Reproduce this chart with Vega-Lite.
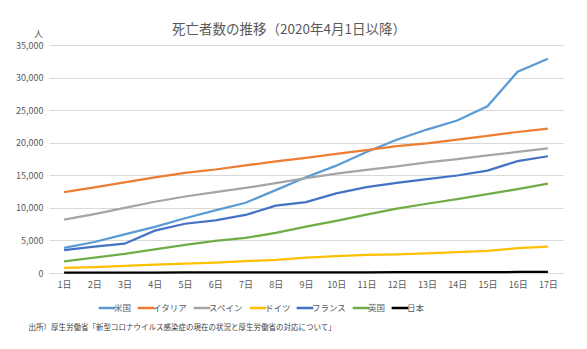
{
  "$schema": "https://vega.github.io/schema/vega-lite/v6.json",
  "width": 514,
  "height": 228,
  "autosize": {"type": "none"},
  "padding": {"left": 49, "top": 45, "right": 24, "bottom": 76},
  "background": "white",
  "config": {"font": "Noto Sans CJK JP", "view": {"stroke": null}},
  "title": {"text": "死亡者数の推移（2020年4月1日以降）", "anchor": "start", "frame": "group", "dx": 123, "dy": 19, "fontSize": 13.5, "fontWeight": "normal", "color": "#595959", "offset": 12},
  "data": {"values": [
    {"s":"米国","d":"1日","v":3873},{"s":"米国","d":"2日","v":4757},{"s":"米国","d":"3日","v":5926},{"s":"米国","d":"4日","v":7087},{"s":"米国","d":"5日","v":8407},{"s":"米国","d":"6日","v":9619},{"s":"米国","d":"7日","v":10783},{"s":"米国","d":"8日","v":12722},{"s":"米国","d":"9日","v":14695},{"s":"米国","d":"10日","v":16478},{"s":"米国","d":"11日","v":18586},{"s":"米国","d":"12日","v":20463},{"s":"米国","d":"13日","v":22020},{"s":"米国","d":"14日","v":23400},{"s":"米国","d":"15日","v":25600},{"s":"米国","d":"16日","v":30900},{"s":"米国","d":"17日","v":32900},
    {"s":"イタリア","d":"1日","v":12428},{"s":"イタリア","d":"2日","v":13155},{"s":"イタリア","d":"3日","v":13915},{"s":"イタリア","d":"4日","v":14681},{"s":"イタリア","d":"5日","v":15362},{"s":"イタリア","d":"6日","v":15887},{"s":"イタリア","d":"7日","v":16523},{"s":"イタリア","d":"8日","v":17127},{"s":"イタリア","d":"9日","v":17669},{"s":"イタリア","d":"10日","v":18279},{"s":"イタリア","d":"11日","v":18849},{"s":"イタリア","d":"12日","v":19468},{"s":"イタリア","d":"13日","v":19899},{"s":"イタリア","d":"14日","v":20465},{"s":"イタリア","d":"15日","v":21067},{"s":"イタリア","d":"16日","v":21645},{"s":"イタリア","d":"17日","v":22170},
    {"s":"スペイン","d":"1日","v":8189},{"s":"スペイン","d":"2日","v":9053},{"s":"スペイン","d":"3日","v":10003},{"s":"スペイン","d":"4日","v":10935},{"s":"スペイン","d":"5日","v":11744},{"s":"スペイン","d":"6日","v":12418},{"s":"スペイン","d":"7日","v":13055},{"s":"スペイン","d":"8日","v":13798},{"s":"スペイン","d":"9日","v":14555},{"s":"スペイン","d":"10日","v":15238},{"s":"スペイン","d":"11日","v":15843},{"s":"スペイン","d":"12日","v":16353},{"s":"スペイン","d":"13日","v":16972},{"s":"スペイン","d":"14日","v":17489},{"s":"スペイン","d":"15日","v":18056},{"s":"スペイン","d":"16日","v":18579},{"s":"スペイン","d":"17日","v":19130},
    {"s":"ドイツ","d":"1日","v":775},{"s":"ドイツ","d":"2日","v":920},{"s":"ドイツ","d":"3日","v":1107},{"s":"ドイツ","d":"4日","v":1275},{"s":"ドイツ","d":"5日","v":1444},{"s":"ドイツ","d":"6日","v":1584},{"s":"ドイツ","d":"7日","v":1810},{"s":"ドイツ","d":"8日","v":2016},{"s":"ドイツ","d":"9日","v":2349},{"s":"ドイツ","d":"10日","v":2607},{"s":"ドイツ","d":"11日","v":2767},{"s":"ドイツ","d":"12日","v":2872},{"s":"ドイツ","d":"13日","v":3022},{"s":"ドイツ","d":"14日","v":3194},{"s":"ドイツ","d":"15日","v":3400},{"s":"ドイツ","d":"16日","v":3804},{"s":"ドイツ","d":"17日","v":4052},
    {"s":"フランス","d":"1日","v":3523},{"s":"フランス","d":"2日","v":4032},{"s":"フランス","d":"3日","v":4503},{"s":"フランス","d":"4日","v":6507},{"s":"フランス","d":"5日","v":7560},{"s":"フランス","d":"6日","v":8078},{"s":"フランス","d":"7日","v":8911},{"s":"フランス","d":"8日","v":10328},{"s":"フランス","d":"9日","v":10869},{"s":"フランス","d":"10日","v":12210},{"s":"フランス","d":"11日","v":13197},{"s":"フランス","d":"12日","v":13832},{"s":"フランス","d":"13日","v":14393},{"s":"フランス","d":"14日","v":14967},{"s":"フランス","d":"15日","v":15729},{"s":"フランス","d":"16日","v":17167},{"s":"フランス","d":"17日","v":17920},
    {"s":"英国","d":"1日","v":1793},{"s":"英国","d":"2日","v":2357},{"s":"英国","d":"3日","v":2926},{"s":"英国","d":"4日","v":3611},{"s":"英国","d":"5日","v":4320},{"s":"英国","d":"6日","v":4943},{"s":"英国","d":"7日","v":5385},{"s":"英国","d":"8日","v":6171},{"s":"英国","d":"9日","v":7111},{"s":"英国","d":"10日","v":7993},{"s":"英国","d":"11日","v":8974},{"s":"英国","d":"12日","v":9892},{"s":"英国","d":"13日","v":10629},{"s":"英国","d":"14日","v":11329},{"s":"英国","d":"15日","v":12107},{"s":"英国","d":"16日","v":12868},{"s":"英国","d":"17日","v":13729},
    {"s":"日本","d":"1日","v":57},{"s":"日本","d":"2日","v":63},{"s":"日本","d":"3日","v":69},{"s":"日本","d":"4日","v":73},{"s":"日本","d":"5日","v":77},{"s":"日本","d":"6日","v":80},{"s":"日本","d":"7日","v":85},{"s":"日本","d":"8日","v":94},{"s":"日本","d":"9日","v":98},{"s":"日本","d":"10日","v":104},{"s":"日本","d":"11日","v":108},{"s":"日本","d":"12日","v":118},{"s":"日本","d":"13日","v":123},{"s":"日本","d":"14日","v":136},{"s":"日本","d":"15日","v":146},{"s":"日本","d":"16日","v":154},{"s":"日本","d":"17日","v":167}
  ]},
  "mark": {"type": "line", "strokeWidth": 2.25},
  "encoding": {
    "x": {
      "field": "d", "type": "ordinal",
      "sort": ["1日","2日","3日","4日","5日","6日","7日","8日","9日","10日","11日","12日","13日","14日","15日","16日","17日"],
      "scale": {"type": "point", "padding": 0.5},
      "axis": {
        "title": "出所）厚生労働省「新型コロナウイルス感染症の現在の状況と厚生労働省の対応について」",
        "titleX": -21, "titleY": 54, "titleAlign": "left", "titleAnchor": "start", "titleBaseline": "middle",
        "titleFontSize": 7.5, "titleFontWeight": "normal", "titleColor": "#404040",
        "labelAngle": 0, "labelFontSize": 9, "labelColor": "#595959", "labelPadding": 7,
        "ticks": false, "domain": false, "grid": false
      }
    },
    "y": {
      "field": "v", "type": "quantitative",
      "scale": {"domain": [0, 35000]},
      "axis": {
        "values": [0, 5000, 10000, 15000, 20000, 25000, 30000, 35000],
        "format": ",.0f",
        "title": "人", "titleAngle": 0, "titleX": -11, "titleY": -12, "titleAlign": "center", "titleBaseline": "middle",
        "titleFontSize": 9, "titleFontWeight": "normal", "titleColor": "#595959",
        "labelFontSize": 9, "labelColor": "#595959", "labelPadding": 6,
        "ticks": false, "domain": false, "gridColor": "#D9D9D9", "gridWidth": 1
      }
    },
    "color": {
      "field": "s", "type": "nominal",
      "scale": {
        "domain": ["米国","イタリア","スペイン","ドイツ","フランス","英国","日本"],
        "range": ["#5B9BD5","#ED7D31","#A5A5A5","#FFC000","#4472C4","#70AD47","#000000"]
      },
      "legend": {
        "orient": "none", "legendX": 48, "legendY": 253, "direction": "horizontal", "title": null,
        "gridAlign": "none",
        "symbolType": "stroke", "symbolSize": 280, "symbolStrokeWidth": 2.5,
        "labelFontSize": 8.5, "labelColor": "#595959", "labelOffset": -3, "columnPadding": 0
      }
    }
  }
}
